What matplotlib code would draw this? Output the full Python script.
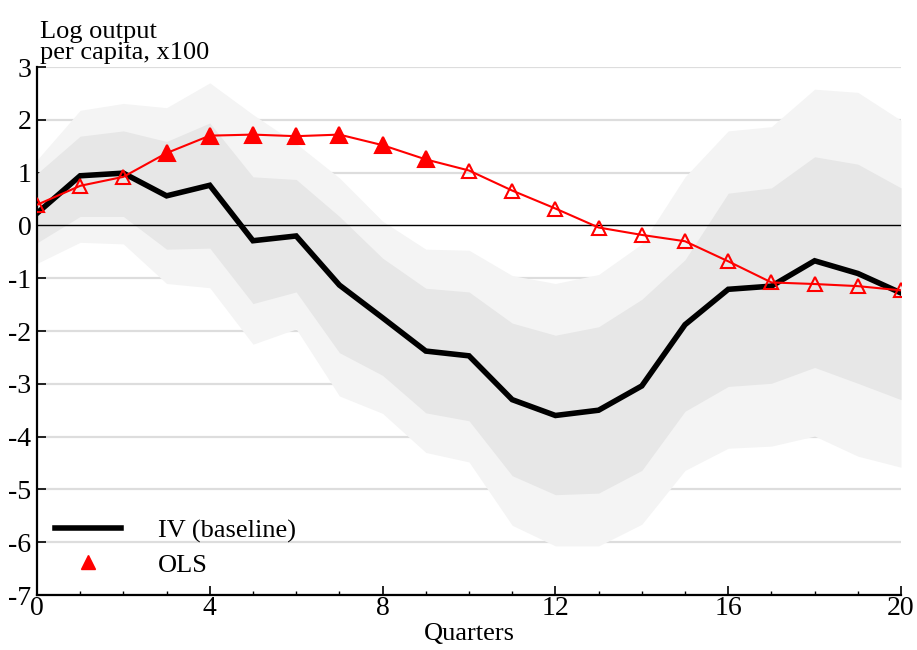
import numpy as np
import matplotlib; matplotlib.use("Agg")
import matplotlib.pyplot as plt
from matplotlib.lines import Line2D
from matplotlib.ticker import MultipleLocator

plt.rcParams["font.family"] = ["Liberation Serif", "DejaVu Serif"]
plt.rcParams["axes.unicode_minus"] = False
FS = 19

quarters = np.arange(21)
iv = [0.23, 0.94, 0.99, 0.56, 0.76, -0.29, -0.20, -1.13, -1.75, -2.38, -2.47,
      -3.30, -3.60, -3.50, -3.04, -1.88, -1.21, -1.15, -0.67, -0.91, -1.28]
ols = [0.39, 0.75, 0.92, 1.37, 1.70, 1.72, 1.69, 1.72, 1.52, 1.25, 1.04,
       0.66, 0.32, -0.04, -0.18, -0.30, -0.68, -1.08, -1.11, -1.15, -1.23]
ols_filled = [False, False, False, True, True, True, True, True, True, True, False,
              False, False, False, False, False, False, False, False, False, False]
hi90 = [1.24, 2.18, 2.31, 2.23, 2.70, 2.10, 1.55, 0.90, 0.08, -0.45, -0.47,
        -0.95, -1.10, -0.93, -0.35, 0.92, 1.79, 1.87, 2.58, 2.52, 1.99]
hi68 = [0.98, 1.69, 1.79, 1.59, 1.94, 0.92, 0.87, 0.17, -0.62, -1.19, -1.26,
        -1.85, -2.08, -1.92, -1.40, -0.65, 0.61, 0.71, 1.30, 1.16, 0.71]
lo68 = [-0.33, 0.17, 0.17, -0.45, -0.43, -1.48, -1.26, -2.41, -2.84, -3.55, -3.70,
        -4.74, -5.10, -5.07, -4.64, -3.52, -3.05, -2.99, -2.69, -2.99, -3.30]
lo90 = [-0.72, -0.32, -0.35, -1.10, -1.18, -2.25, -1.96, -3.23, -3.56, -4.30, -4.48,
        -5.68, -6.07, -6.07, -5.66, -4.64, -4.22, -4.18, -3.99, -4.37, -4.58]

fig = plt.figure(figsize=(9.17, 6.5), dpi=100)
ax = fig.add_axes([0.0403, 0.0846, 0.9423, 0.8123])

# bands
ax.fill_between(quarters, lo90, hi90, color="#f4f4f4", lw=0, zorder=1)
ax.fill_between(quarters, lo68, hi68, color="#e7e7e7", lw=0, zorder=2)

# gridlines + zero line
for yv in range(-7, 4):
    if yv == 0:
        continue
    ax.axhline(yv, color="#dddddd", lw=1.6, zorder=0.5)
ax.axhline(0, color="black", lw=1.0, zorder=3)

ax.plot(quarters, iv, color="black", lw=4, zorder=4, solid_joinstyle="miter")
ax.plot(quarters, ols, color="red", lw=1.5, zorder=5)
q = np.array(quarters); o = np.array(ols); f = np.array(ols_filled)
ax.plot(q[f], o[f], ls="none", marker="^", ms=11, mfc="red", mec="red", mew=1.5, zorder=6)
ax.plot(q[~f], o[~f], ls="none", marker="^", ms=10, mfc="none", mec="red", mew=1.5, zorder=6)

ax.set_xlim(0, 20); ax.set_ylim(-7, 3)
ax.xaxis.set_major_locator(MultipleLocator(4)); ax.xaxis.set_minor_locator(MultipleLocator(1))
ax.yaxis.set_major_locator(MultipleLocator(1))
ax.tick_params(axis="both", which="major", direction="in", length=6.5, width=1.2,
               labelsize=FS + 1, pad=1)
ax.tick_params(axis="x", which="minor", direction="in", length=3, width=1.0)
ax.tick_params(axis="y", pad=4)
for s in ["top", "right"]: ax.spines[s].set_visible(False)
for s in ["left", "bottom"]: ax.spines[s].set_linewidth(1.6)

ax.set_xlabel("Quarters", fontsize=FS, labelpad=1)
ax.text(0.004, 1.005, "Log output\nper capita, x100", transform=ax.transAxes,
        fontsize=FS, ha="left", va="bottom", linespacing=0.95)

handles = [Line2D([], [], color="black", lw=4),
           Line2D([], [], ls="none", marker="^", ms=10, mfc="red", mec="red")]
ax.legend(handles, ["IV (baseline)", "OLS"], loc="lower left", bbox_to_anchor=(0.0, 0.0),
          frameon=False, fontsize=FS, handlelength=2.5, handletextpad=1.4,
          labelspacing=0.38, borderaxespad=0.3)

fig.savefig("out.png", dpi=100)
